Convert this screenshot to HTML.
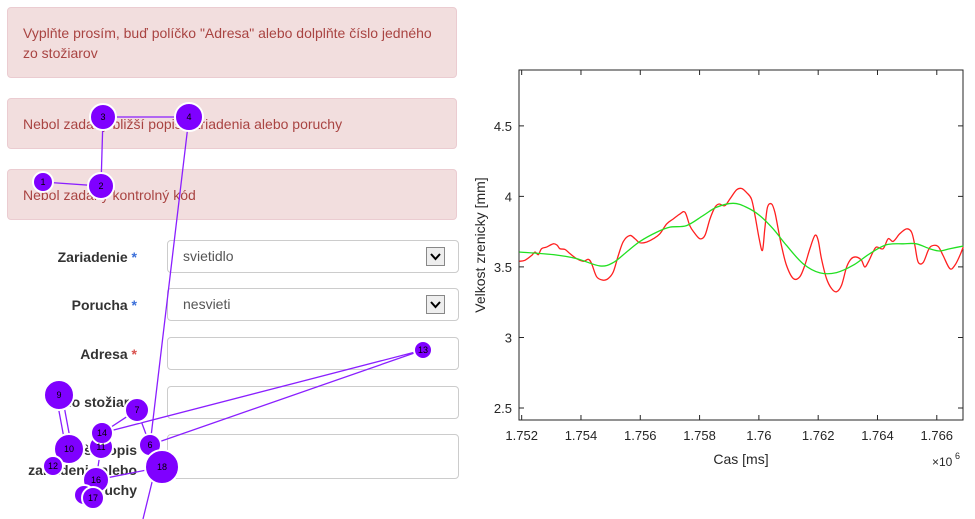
<!DOCTYPE html>
<html><head><meta charset="utf-8">
<style>
body{margin:0;width:975px;height:519px;background:#fff;overflow:hidden;position:relative;font-family:"Liberation Sans",sans-serif;}
.alert{position:absolute;left:7px;width:450px;background:#f2dede;border:1px solid #ebccd1;border-radius:4px;color:#a94442;font-size:14px;line-height:20px;box-sizing:border-box;padding:0 15px;}
.lbl{position:absolute;right:838px;font-weight:bold;font-size:14px;color:#333;text-align:right;line-height:20px;}
.lbl .req{color:#3b6fd9;}
.lbl .reqr{color:#d9534f;}
.inp{position:absolute;left:167px;width:292px;border:1px solid #ccc;border-radius:4px;box-sizing:border-box;background:#fff;font-size:14px;color:#555;padding-left:15px;}
.dd{position:absolute;right:13px;top:6px;width:19px;height:19px;border:1px solid #888;background:#eee;box-sizing:border-box;}
.dd svg{position:absolute;left:0;top:0;}
</style></head><body>
<div class="alert" style="top:7px;height:71px;padding-top:15px;">Vyplňte prosím, buď políčko "Adresa" alebo dolplňte číslo jedného zo stožiarov</div>
<div class="alert" style="top:98px;height:51px;padding-top:15px;">Nebol zadaný bližší popis zariadenia alebo poruchy</div>
<div class="alert" style="top:169px;height:51px;padding-top:15px;">Nebol zadaný kontrolný kód</div>

<div class="lbl" style="top:247px;">Zariadenie <span class="req">*</span></div>
<div class="inp" style="top:240px;height:33px;line-height:31px;">svietidlo<div class="dd"><svg width="17" height="17"><path d="M4 6 L8.5 11 L13 6" stroke="#000" stroke-width="2" fill="none"/></svg></div></div>
<div class="lbl" style="top:295px;">Porucha <span class="req">*</span></div>
<div class="inp" style="top:288px;height:33px;line-height:31px;">nesvieti<div class="dd"><svg width="17" height="17"><path d="M4 6 L8.5 11 L13 6" stroke="#000" stroke-width="2" fill="none"/></svg></div></div>
<div class="lbl" style="top:344px;">Adresa <span class="reqr">*</span></div>
<div class="inp" style="top:337px;height:33px;"></div>
<div class="lbl" style="top:392px;">Číslo stožiara</div>
<div class="inp" style="top:386px;height:33px;"></div>
<div class="lbl" style="top:440px;">Bližší popis<br>zariadenia alebo<br>poruchy</div>
<div class="inp" style="top:434px;height:45px;"></div>

<svg width="470" height="519" style="position:absolute;left:0;top:0;">
<g stroke="#8a1fff" stroke-width="1.3" fill="none">
<path d="M43 182 L101 186 L103 117 L189 117 L150 445"/>
<path d="M56 395 L66 449 M62 395 L72 449"/>
<path d="M137 410 L102 433 M137 410 L150 445 M102 433 L423 350 L150 445 M101 447 L96 480 L162 467 M155 470 L143 519"/>
</g>
<g fill="#7f00ff" stroke="#fff" stroke-width="2" font-size="9" font-family="Liberation Sans">
<circle cx="43" cy="182" r="10"/><circle cx="101" cy="186" r="13"/><circle cx="103" cy="117" r="13"/><circle cx="189" cy="117" r="14"/>
<circle cx="423" cy="350" r="9"/><circle cx="59" cy="395" r="15"/><circle cx="137" cy="410" r="12"/>
<circle cx="101" cy="447" r="12"/><circle cx="69" cy="449" r="15"/><circle cx="102" cy="433" r="11"/><circle cx="150" cy="445" r="11"/>
<circle cx="53" cy="466" r="10"/><circle cx="162" cy="467" r="17"/><circle cx="96" cy="480" r="13"/><circle cx="84" cy="495" r="10"/><circle cx="93" cy="498" r="11"/>
</g>
<g fill="#000" font-size="9" text-anchor="middle" font-family="Liberation Sans">
<text x="43" y="185">1</text><text x="101" y="189">2</text><text x="103" y="120">3</text><text x="189" y="120">4</text>
<text x="423" y="353">13</text><text x="59" y="398">9</text><text x="137" y="413">7</text><text x="101" y="450">11</text>
<text x="69" y="452">10</text><text x="102" y="436">14</text><text x="150" y="448">6</text><text x="53" y="469">12</text>
<text x="162" y="470">18</text><text x="96" y="483">16</text><text x="93" y="501">17</text>
</g>
</svg>

<svg id="chart" width="505" height="519" style="position:absolute;left:470px;top:0;"></svg>
<script>
const redT=[1751.92,1752.11,1752.34,1752.45,1752.56,1752.67,1752.84,1753.07,1753.20,1753.29,1753.46,1753.63,1753.85,1754.08,1754.25,1754.36,1754.53,1754.75,1754.92,1755.09,1755.26,1755.43,1755.65,1755.82,1755.99,1756.21,1756.44,1756.66,1756.89,1757.11,1757.34,1757.51,1757.67,1757.81,1758.01,1758.18,1758.35,1758.52,1758.66,1758.85,1759.02,1759.25,1759.42,1759.58,1759.75,1759.87,1760.01,1760.12,1760.20,1760.29,1760.43,1760.54,1760.65,1760.76,1760.93,1761.16,1761.38,1761.55,1761.72,1761.89,1762.00,1762.11,1762.28,1762.45,1762.62,1762.79,1762.96,1763.12,1763.29,1763.46,1763.57,1763.69,1763.85,1763.97,1764.19,1764.36,1764.53,1764.75,1764.98,1765.15,1765.26,1765.37,1765.54,1765.71,1765.82,1766.04,1766.21,1766.44,1766.61,1766.78,1766.89];
const redY=[3.540,3.547,3.582,3.606,3.587,3.629,3.641,3.664,3.653,3.629,3.624,3.594,3.559,3.540,3.554,3.523,3.430,3.406,3.418,3.465,3.582,3.681,3.723,3.700,3.671,3.676,3.700,3.735,3.805,3.840,3.876,3.887,3.793,3.746,3.700,3.723,3.840,3.923,3.946,3.934,3.981,4.047,4.056,4.028,3.981,3.864,3.700,3.617,3.770,3.923,3.946,3.887,3.770,3.653,3.512,3.418,3.430,3.512,3.629,3.723,3.688,3.559,3.418,3.347,3.324,3.371,3.500,3.559,3.570,3.547,3.500,3.535,3.606,3.641,3.629,3.700,3.681,3.735,3.770,3.746,3.653,3.535,3.531,3.617,3.648,3.646,3.582,3.488,3.512,3.582,3.641];
const greenT=[1751.92,1753.07,1753.85,1754.64,1755.09,1755.54,1755.99,1756.55,1757.00,1757.56,1758.12,1758.57,1759.13,1759.58,1760.03,1760.48,1760.93,1761.49,1762.06,1762.62,1763.18,1763.74,1764.30,1764.87,1765.31,1765.76,1766.10,1766.44,1766.89];
const greenY=[3.606,3.587,3.559,3.507,3.531,3.606,3.681,3.746,3.782,3.793,3.864,3.923,3.951,3.923,3.864,3.770,3.653,3.523,3.458,3.460,3.512,3.594,3.657,3.664,3.664,3.629,3.613,3.629,3.648];
const xTicks=[1752,1754,1756,1758,1760,1762,1764,1766];
const xTickLabels=["1.752","1.754","1.756","1.758","1.76","1.762","1.764","1.766"];
const yTicks=[2.5,3,3.5,4,4.5];
const yTickLabels=["2.5","3","3.5","4","4.5"];
const X0=49,X1=493,Y0=70,Y1=420,TMIN=1751.91,TMAX=1766.884,VMIN=2.415,VMAX=4.896;
const sx=t=>X0+(t-TMIN)/(TMAX-TMIN)*(X1-X0);
const sy=v=>Y1-(v-VMIN)/(VMAX-VMIN)*(Y1-Y0);
const svg=document.getElementById('chart');const NS='http://www.w3.org/2000/svg';
function mk(tag,attrs,txt){const e=document.createElementNS(NS,tag);for(const k in attrs)e.setAttribute(k,attrs[k]);if(txt!==undefined)e.textContent=txt;svg.appendChild(e);return e;}
let e=mk('rect',{x:X0,y:Y0,width:X1-X0,height:Y1-Y0,fill:'#fff',stroke:'#262626','stroke-width':1});


xTicks.forEach((t,i)=>{const x=sx(t);
 let l=mk('path',{d:`M${x} ${Y1}V${Y1-5}M${x} ${Y0}V${Y0+5}`,stroke:'#262626'});
 
 
 let tx=mk('text',{x:x,y:Y1+20,'text-anchor':'middle','font-size':13,fill:'#262626','font-family':'Liberation Sans'},xTickLabels[i]);
 
 });
yTicks.forEach((v,i)=>{const y=sy(v);
 let l=mk('path',{d:`M${X0} ${y}H${X0+5}M${X1} ${y}H${X1-5}`,stroke:'#262626'});
 
 
 let tx=mk('text',{x:X0-7,y:y+5,'text-anchor':'end','font-size':13,fill:'#262626','font-family':'Liberation Sans'},yTickLabels[i]);
 
 });
function curve(T,V){const p=T.map((t,i)=>[sx(t),sy(V[i])]);let d=`M${p[0][0]} ${p[0][1]}`;
 for(let i=0;i<p.length-1;i++){const a=p[Math.max(0,i-1)],b=p[i],c=p[i+1],n=p[Math.min(p.length-1,i+2)];
  d+=`C${b[0]+(c[0]-a[0])/6} ${b[1]+(c[1]-a[1])/6} ${c[0]-(n[0]-b[0])/6} ${c[1]-(n[1]-b[1])/6} ${c[0]} ${c[1]}`;}return d;}
let r=mk('path',{d:curve(redT,redY),stroke:'#ff2020',fill:'none','stroke-width':1.3});


let g=mk('path',{d:curve(greenT,greenY),stroke:'#22e022',fill:'none','stroke-width':1.3});


let xt=mk('text',{x:(X0+X1)/2,y:464,'text-anchor':'middle','font-size':14,fill:'#262626','font-family':'Liberation Sans'},'Cas [ms]');


let yt=mk('text',{x:0,y:0,transform:`translate(15 ${(Y0+Y1)/2}) rotate(-90)`,'text-anchor':'middle','font-size':14,fill:'#262626','font-family':'Liberation Sans'},'Velkost zrenicky [mm]');


let ex=mk('text',{x:462,y:466,'font-size':12,fill:'#262626','font-family':'Liberation Sans'},'×10');


let ex2=mk('text',{x:485,y:459,'font-size':9,fill:'#262626','font-family':'Liberation Sans'},'6');


</script>
</body></html>
